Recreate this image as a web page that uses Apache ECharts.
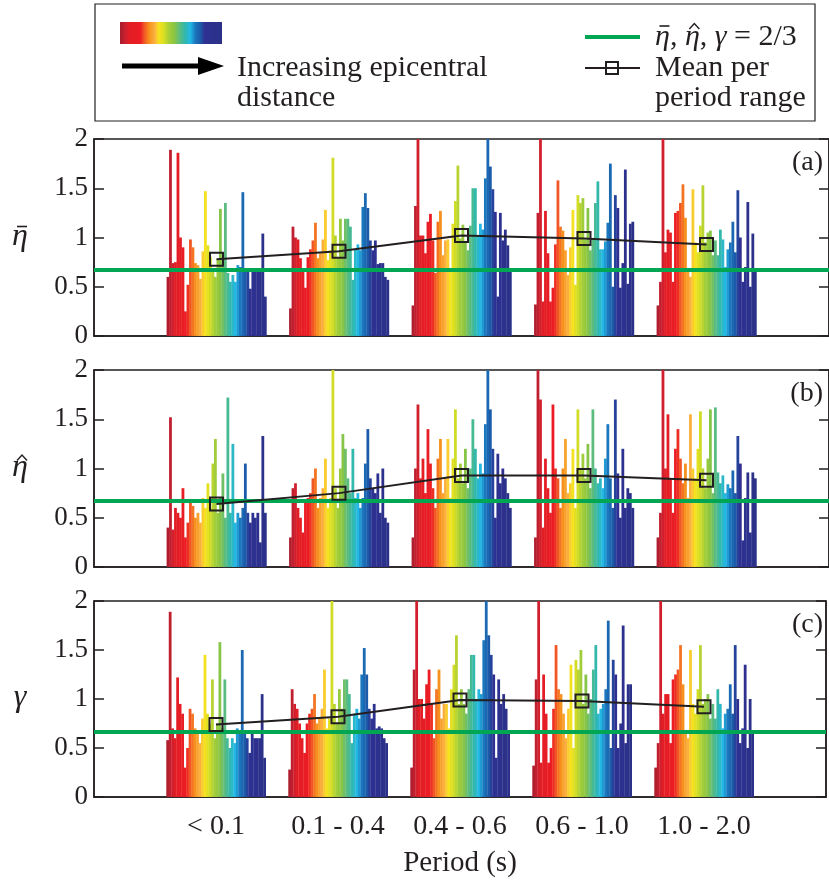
<!DOCTYPE html>
<html><head><meta charset="utf-8">
<script src="https://cdn.jsdelivr.net/npm/echarts@6/dist/echarts.min.js"></script>
<style>html,body{margin:0;padding:0;background:#fff}#c{width:829px;height:888px}</style>
</head><body><div id="c"></div>
<script>
// ---------------- data ----------------
const categories = ['< 0.1', '0.1 - 0.4', '0.4 - 0.6', '0.6 - 1.0', '1.0 - 2.0'];
const yTickValues = [0, 0.5, 1, 1.5, 2];
const panelSymbols = ['η', 'η', 'γ'];
const panelAccents = ['bar', 'hat', null];
const panelTags = ['(a)', '(b)', '(c)'];
const referenceLevel = 2 / 3;

// bars per period range, ordered by increasing epicentral distance
const etaBarBars = [
  [0.6,1.89,0.74,0.75,1.86,1.0,0.9,0.25,0.52,0.98,0.9,0.74,0.72,0.58,0.86,1.47,0.92,0.8,0.65,0.6,0.78,1.29,0.8,1.35,0.64,0.55,0.62,0.55,0.72,0.7,1.46,0.68,0.65,0.48,0.68,0.67,0.66,0.66,1.04,0.4],
  [0.28,1.11,1.0,0.98,0.79,0.67,0.49,0.8,0.88,0.97,1.15,0.79,0.84,0.98,1.28,0.77,0.87,1.81,1.02,0.79,1.19,0.97,1.19,1.19,1.11,0.57,0.88,0.93,0.87,1.31,1.45,1.3,0.97,0.87,0.97,0.73,0.74,0.74,0.6,0.57],
  [0.31,1.32,2.0,1.02,1.02,0.84,1.16,1.24,0.97,0.64,1.16,1.27,0.82,0.97,0.98,0.69,1.14,1.37,1.73,0.99,1.13,0.96,0.87,1.12,1.5,1.5,1.02,1.14,1.08,1.6,2.0,1.72,1.49,1.26,0.4,1.25,0.97,1.08,0.92,0.69],
  [0.32,1.25,2.0,0.35,1.27,0.84,0.35,0.49,0.93,1.58,1.11,1.07,0.87,0.62,0.9,1.28,0.52,1.43,1.35,1.4,0.98,1.3,0.87,0.99,1.35,1.57,0.88,0.88,0.96,1.15,1.75,0.5,1.43,1.3,0.49,0.74,1.69,0.53,1.14,1.16],
  [0.31,0.55,2.0,0.85,1.08,1.05,0.55,1.25,1.27,1.35,1.54,1.2,0.65,0.6,1.49,0.95,0.85,1.12,1.53,0.95,1.05,1.07,0.82,0.97,0.82,1.08,0.98,0.7,0.88,0.95,1.16,0.85,1.48,1.0,0.55,0.7,1.36,0.5,1.04,0.68]
];
const etaHatBars = [
  [0.4,1.52,0.38,0.6,0.55,0.5,0.8,0.3,0.45,0.65,0.62,0.5,0.55,0.45,0.7,0.6,0.85,0.6,1.05,1.3,0.55,0.7,0.95,0.5,1.72,0.55,1.25,0.45,0.55,0.5,0.6,1.05,0.55,0.45,0.55,0.5,0.55,0.25,1.33,0.55],
  [0.3,0.8,0.85,0.6,0.5,0.35,0.65,0.7,0.75,0.9,1.0,0.6,0.7,0.8,1.1,0.6,0.7,2.0,0.8,0.6,1.0,1.35,1.2,0.9,0.75,1.2,0.7,0.75,0.6,0.7,1.05,1.4,0.9,0.8,0.75,0.95,0.55,1.0,0.5,0.45],
  [0.3,1.0,1.65,0.9,1.1,0.75,1.4,1.05,0.8,0.6,1.1,1.3,0.75,0.9,1.3,0.7,1.1,1.6,0.9,1.05,0.85,1.2,0.8,1.0,1.5,1.2,0.9,1.05,0.95,1.45,2.0,1.6,1.2,0.5,1.15,0.85,1.0,0.9,0.75,0.6],
  [0.3,2.0,1.7,0.4,1.1,0.8,0.55,1.65,1.0,0.9,0.6,1.0,1.3,0.75,0.85,1.2,0.6,1.6,1.0,1.15,0.9,1.25,0.8,1.6,1.0,0.85,0.9,0.8,1.1,1.45,0.9,0.6,1.7,0.95,0.5,1.2,0.6,0.8,0.75,0.6],
  [0.3,0.55,2.0,1.0,1.55,0.9,0.55,1.2,1.4,1.1,0.85,1.05,0.7,1.55,1.0,0.9,1.2,1.58,1.0,0.8,1.1,1.6,0.75,1.62,0.96,0.85,0.93,0.75,0.84,0.8,0.98,0.75,1.33,1.05,0.27,0.7,0.96,0.35,0.96,0.9]
];
const gammaBars = [
  [0.58,1.89,0.7,0.6,1.22,0.95,0.85,0.3,0.5,0.9,0.85,0.7,0.65,0.55,0.8,1.45,0.85,0.75,1.2,0.6,0.75,1.58,0.7,1.2,0.6,0.5,0.6,0.55,0.7,0.65,1.5,0.65,0.6,0.45,0.65,0.6,0.6,0.6,1.05,0.4],
  [0.28,1.1,0.95,0.9,0.75,0.6,0.45,0.75,0.85,0.9,1.05,0.75,0.8,0.9,1.3,0.7,0.8,2.0,0.95,0.75,1.1,0.9,1.2,1.2,1.05,0.55,0.85,0.9,0.8,1.25,1.52,1.25,0.9,0.8,0.95,0.7,0.72,0.7,0.6,0.55],
  [0.3,1.3,2.0,1.0,1.0,0.8,1.15,1.3,0.95,0.6,1.1,1.3,0.8,0.95,0.95,0.7,1.1,1.35,1.65,0.95,1.1,0.95,0.85,1.1,1.45,1.45,1.0,1.1,1.05,1.6,2.0,1.65,1.45,1.25,0.4,1.2,0.95,1.05,0.9,0.68],
  [0.32,1.2,2.0,0.35,1.25,0.85,0.35,0.5,0.9,1.55,1.1,1.05,0.85,0.6,0.9,1.35,0.5,1.4,1.3,1.5,0.95,1.25,0.85,1.0,1.3,1.55,0.85,0.9,0.95,1.1,1.8,0.5,1.4,1.25,0.5,0.75,1.75,0.55,1.15,1.15],
  [0.3,0.55,2.0,0.85,1.05,1.05,0.55,1.2,1.25,1.3,1.55,1.15,0.65,0.6,1.5,0.95,0.85,1.1,1.55,0.95,1.0,1.05,0.8,0.95,0.8,1.1,0.95,0.7,0.85,0.9,1.15,0.85,1.55,1.0,0.55,0.7,1.35,0.5,1.0,0.65]
];
const etaBarMean = [0.78, 0.86, 1.02, 0.99, 0.93];
const etaHatMean = [0.64, 0.75, 0.93, 0.93, 0.88];
const gammaMean  = [0.74, 0.82, 0.99, 0.98, 0.92];

// ---------------- style ----------------
const INK = '#231f20';
const GREEN = '#00a651';
const FONT = '"Liberation Serif", "DejaVu Serif", serif';
const GROUP_WIDTH = 0.815; // in axis units
const colorStops = [
  [0.00, '#a51d2d'], [0.05, '#c92030'], [0.09, '#e31e25'], [0.20, '#ec1c24'],
  [0.24, '#f15a24'], [0.29, '#f7941d'], [0.34, '#fbb040'], [0.38, '#f9e11e'],
  [0.43, '#d7df23'], [0.48, '#a6ce39'], [0.53, '#8dc63f'], [0.58, '#62bd7a'],
  [0.63, '#35b8a4'], [0.69, '#22b8e6'], [0.74, '#1b75bc'], [0.79, '#1c5aa8'],
  [0.83, '#2e3192'], [1.00, '#2b3188']
];
function hex2rgb(h) { return [1, 3, 5].map(i => parseInt(h.substr(i, 2), 16)); }
function colorAt(t) {
  for (let k = 1; k < colorStops.length; k++) {
    if (t <= colorStops[k][0]) {
      const [t0, c0] = colorStops[k - 1], [t1, c1] = colorStops[k];
      const f = (t - t0) / (t1 - t0), a = hex2rgb(c0), b = hex2rgb(c1);
      return 'rgb(' + a.map((v, j) => Math.round(v + (b[j] - v) * f)).join(',') + ')';
    }
  }
  return colorStops[colorStops.length - 1][1];
}
const measureCtx = document.createElement('canvas').getContext('2d');
function textWidth(t, font) { measureCtx.font = font; return measureCtx.measureText(t).width; }

const panels = [
  { bars: etaBarBars, mean: etaBarMean, top: 139, height: 197 },
  { bars: etaHatBars, mean: etaHatMean, top: 370, height: 197 },
  { bars: gammaBars,  mean: gammaMean,  top: 601, height: 196 }
];

const grid = [], xAxis = [], yAxis = [], series = [];
panels.forEach((p, k) => {
  grid.push({ left: 94, width: 735, top: p.top, height: p.height, show: true,
    borderColor: INK, borderWidth: 1.5, backgroundColor: 'transparent' });
  const last = k === panels.length - 1;
  xAxis.push({
    type: 'value', gridIndex: k, min: 0, max: 6, interval: 1,
    axisLine: { show: true, onZero: false, lineStyle: { color: INK, width: 1.5 } },
    axisTick: { show: false }, splitLine: { show: false },
    axisLabel: { show: last, margin: 16, fontFamily: FONT, fontSize: 28, color: INK,
      formatter: v => categories[v - 1] || '' },
    name: last ? 'Period (s)' : '', nameLocation: 'middle', nameGap: 52,
    nameTextStyle: { fontFamily: FONT, fontSize: 29, color: INK }
  });
  const yBase = {
    type: 'value', gridIndex: k, min: 0, max: 2, interval: 0.5,
    axisLine: { show: true, lineStyle: { color: INK, width: 1.5 } },
    axisTick: { show: true, inside: true, length: 10, customValues: yTickValues, lineStyle: { color: INK, width: 1.5 } },
    splitLine: { show: false }
  };
  yAxis.push(Object.assign({}, yBase, {
    position: 'left',
    axisLabel: { show: true, margin: 6, fontFamily: FONT, fontSize: 27, color: INK, customValues: yTickValues }
  }));
  yAxis.push(Object.assign({}, yBase, { position: 'right', axisLabel: { show: false } }));

  const data = [];
  p.bars.forEach((vals, g) => {
    const n = vals.length, step = GROUP_WIDTH / n;
    vals.forEach((v, i) => data.push([g + 1 + (i - (n - 1) / 2) * step, v, (i + 0.5) / n, step]));
  });
  series.push({
    type: 'custom', xAxisIndex: k, yAxisIndex: 2 * k, silent: true, clip: true, z: 2,
    data, encode: { x: 0, y: 1 },
    renderItem(params, api) {
      const x = api.value(0), y = api.value(1), s = api.value(3);
      const p0 = api.coord([x - s / 2, y]);
      const p1 = api.coord([x + s / 2, 0]);
      return { type: 'rect',
        shape: { x: p0[0], y: p0[1], width: p1[0] - p0[0] + 0.3, height: p1[1] - p0[1] },
        style: { fill: colorAt(api.value(2)) } };
    }
  });
  series.push({
    type: 'line', xAxisIndex: k, yAxisIndex: 2 * k, silent: true, z: 5,
    data: p.mean.map((v, g) => [g + 1, v]),
    symbol: 'rect', symbolSize: 13,
    itemStyle: { color: 'rgba(0,0,0,0)', borderColor: INK, borderWidth: 2 },
    lineStyle: { color: INK, width: 2 },
    markLine: { silent: true, symbol: ['none', 'none'], label: { show: false }, z: 4,
      lineStyle: { color: GREEN, width: 4, type: 'solid' }, data: [{ yAxis: referenceLevel }] }
  });
});

// accent marks (bar / hat) drawn over italic Greek letters
function accent(kind, cx, y) {
  if (kind === 'bar') return { type: 'line', z: 10, shape: { x1: cx - 5, y1: y, x2: cx + 5, y2: y }, style: { stroke: INK, lineWidth: 1.6 } };
  if (kind === 'hat') return { type: 'polyline', z: 10, shape: { points: [[cx - 5, y + 3], [cx, y - 2.5], [cx + 5, y + 3]] }, style: { stroke: INK, lineWidth: 1.4, fill: 'none' } };
  return null;
}

const graphic = [
  { type: 'rect', shape: { x: 95, y: 4, width: 720, height: 117 }, style: { fill: 'none', stroke: INK, lineWidth: 1.2 } },
  { type: 'rect', shape: { x: 120, y: 22, width: 102, height: 22 },
    style: { fill: new echarts.graphic.LinearGradient(0, 0, 1, 0, colorStops.map(s => ({ offset: s[0], color: s[1] }))) } },
  { type: 'line', shape: { x1: 122, y1: 66, x2: 202, y2: 66 }, style: { stroke: '#000', lineWidth: 5 } },
  { type: 'polygon', shape: { points: [[198, 57], [224, 66], [198, 75]] }, style: { fill: '#000' } },
  { type: 'text', x: 237, y: 53, style: { text: 'Increasing epicentral\ndistance', font: '30px ' + FONT, fill: INK, lineHeight: 30 } },
  { type: 'line', shape: { x1: 585, y1: 37, x2: 640, y2: 37 }, style: { stroke: GREEN, lineWidth: 4 } },
  { type: 'line', shape: { x1: 585, y1: 68, x2: 640, y2: 68 }, style: { stroke: INK, lineWidth: 2 } },
  { type: 'rect', shape: { x: 606, y: 62, width: 12, height: 12 }, style: { fill: 'none', stroke: INK, lineWidth: 2 } },
  { type: 'text', x: 655, y: 53, style: { text: 'Mean per\nperiod range', font: '30px ' + FONT, fill: INK, lineHeight: 30 } }
];

// legend equation: η̄, η̂, γ = 2/3
const ITAL = 'italic 30px ' + FONT, ROM = '30px ' + FONT;
const eqSegments = [
  { t: 'η', f: ITAL, acc: 'bar' }, { t: ', ', f: ROM }, { t: 'η', f: ITAL, acc: 'hat' },
  { t: ', ', f: ROM }, { t: 'γ', f: ITAL }, { t: ' = 2/3', f: ROM }
];
let ex = 655;
eqSegments.forEach(s => {
  graphic.push({ type: 'text', x: ex, y: 37, style: { text: s.t, font: s.f, fill: INK, verticalAlign: 'middle' } });
  const w = textWidth(s.t, s.f);
  if (s.acc) graphic.push(accent(s.acc, ex + w / 2 + 2, 26));
  ex += w;
});

panels.forEach((p, k) => {
  const cy = p.top + p.height / 2;
  const f = 'italic 32px ' + FONT;
  const w = textWidth(panelSymbols[k], f);
  graphic.push({ type: 'text', x: 20, y: cy - 1, style: { text: panelSymbols[k], font: f, fill: INK, align: 'center', verticalAlign: 'middle' } });
  if (panelAccents[k]) graphic.push(accent(panelAccents[k], 20 + 2, cy - 11));
  graphic.push({ type: 'text', x: 823, y: p.top + 24, z: 10,
    style: { text: panelTags[k], font: '28px ' + FONT, fill: INK, align: 'right', verticalAlign: 'middle' } });
});

const chart = echarts.init(document.getElementById('c'), null, { renderer: 'canvas' });
chart.setOption({ animation: false, backgroundColor: '#fff', grid, xAxis, yAxis, series, graphic });
</script>
</body></html>
